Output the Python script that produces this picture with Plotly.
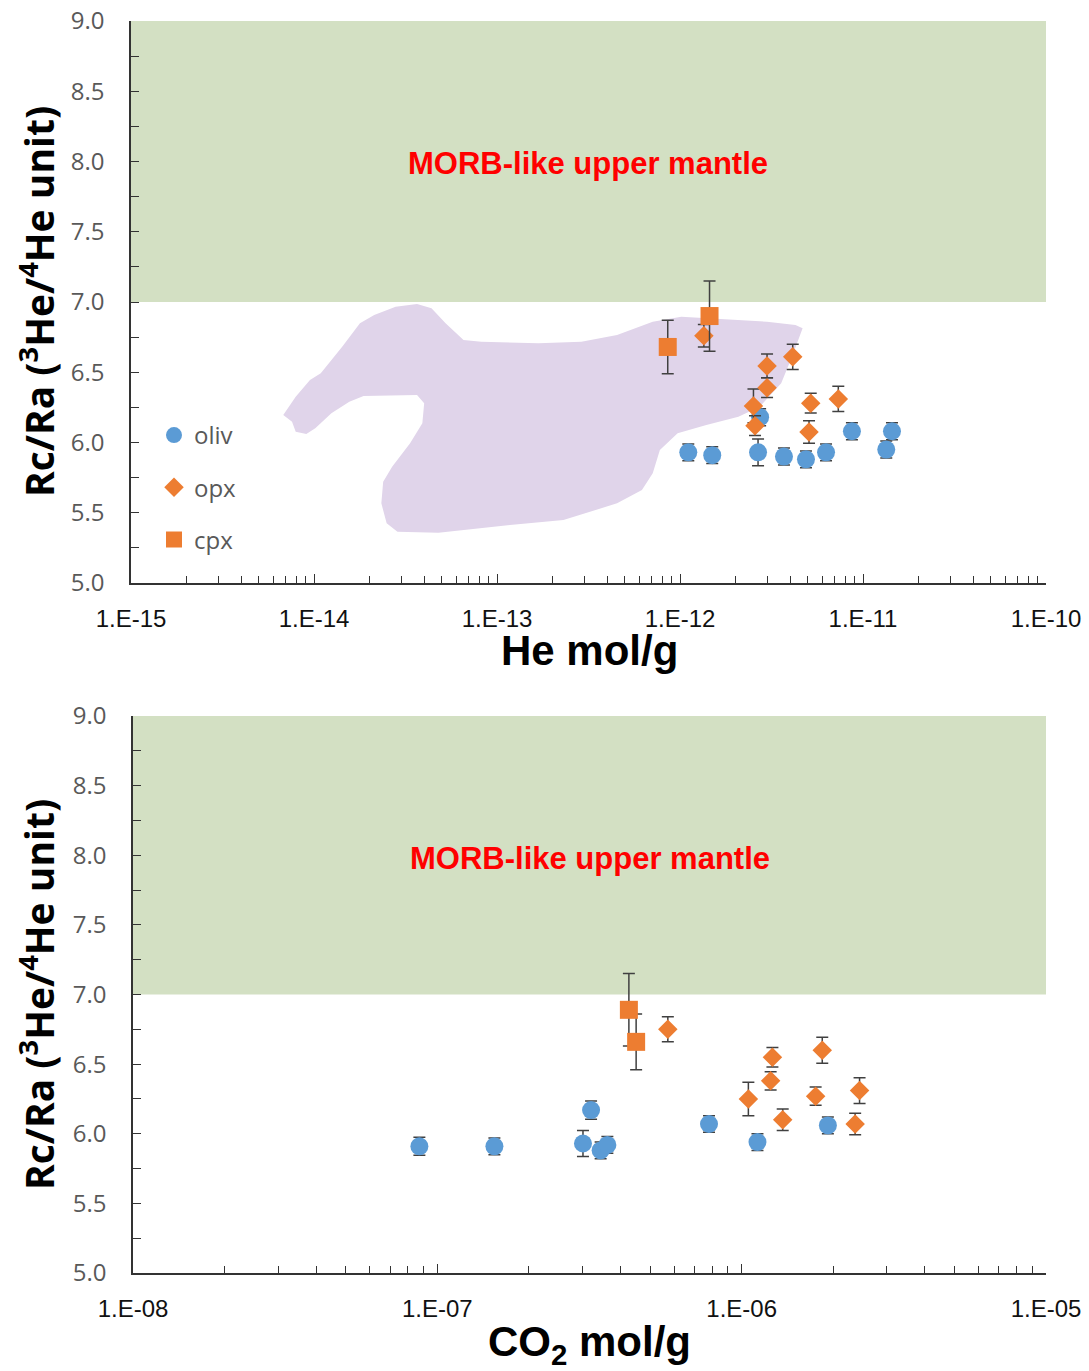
import numpy as np
import plotly.graph_objects as go

# ---------------- data ----------------
# Top panel: He mol/g vs Rc/Ra
oliv_he = [1.11e-12, 1.50e-12, 2.67e-12, 2.74e-12, 3.70e-12, 4.88e-12, 6.28e-12, 8.7e-12, 1.34e-11, 1.44e-11]
oliv_r_he = [5.93, 5.91, 5.93, 6.18, 5.90, 5.88, 5.93, 6.08, 5.95, 6.08]
oliv_err_he = [0.06, 0.06, 0.095, 0.06, 0.06, 0.06, 0.06, 0.06, 0.06, 0.06]

opx_he = [1.35e-12, 2.99e-12, 4.13e-12, 2.99e-12, 2.52e-12, 2.57e-12, 5.18e-12, 7.33e-12, 5.07e-12]
opx_r_he = [6.76, 6.545, 6.61, 6.39, 6.26, 6.12, 6.28, 6.31, 6.075]
opx_err_he = [0.08, 0.085, 0.09, 0.07, 0.12, 0.07, 0.07, 0.09, 0.08]

cpx_he = [8.57e-13, 1.45e-12]
cpx_r_he = [6.68, 6.90]
cpx_err_he = [0.19, 0.25]

# Bottom panel: CO2 mol/g vs Rc/Ra
oliv_co2 = [8.73e-8, 1.54e-7, 3.20e-7, 3.01e-7, 3.44e-7, 3.62e-7, 7.81e-7, 1.127e-6, 1.92e-6]
oliv_r_co2 = [5.91, 5.91, 6.17, 5.93, 5.88, 5.92, 6.07, 5.94, 6.06]
oliv_err_co2 = [0.065, 0.06, 0.065, 0.093, 0.06, 0.06, 0.06, 0.06, 0.06]

opx_co2 = [5.72e-7, 1.262e-6, 1.245e-6, 1.052e-6, 1.364e-6, 1.84e-6, 1.75e-6, 2.44e-6, 2.36e-6]
opx_r_co2 = [6.75, 6.55, 6.38, 6.25, 6.10, 6.60, 6.27, 6.31, 6.07]
opx_err_co2 = [0.09, 0.07, 0.065, 0.12, 0.077, 0.093, 0.066, 0.092, 0.078]

cpx_co2 = [4.26e-7, 4.50e-7]
cpx_r_co2 = [6.89, 6.66]
cpx_err_co2 = [0.26, 0.20]

# Purple field outline (log10 He, Rc/Ra)
field_log_he = [-14.168, -14.120, -14.100, -14.042, -13.993, -13.905, -13.807, -13.729, -13.437, -13.398,
                -13.408, -13.475, -13.573, -13.622, -13.632, -13.603, -13.544, -13.320, -12.929, -12.637,
                -12.344, -12.208, -12.149, -12.110, -12.013, -11.856, -11.681, -11.564, -11.447, -11.388,
                -11.330, -11.369, -11.525, -11.856, -11.993, -12.149, -12.344, -12.539, -12.773, -13.086,
                -13.183, -13.281, -13.358, -13.437, -13.554, -13.671, -13.749, -13.846, -13.963, -14.022,
                -14.100]
field_r = [6.196, 6.148, 6.077, 6.060, 6.101, 6.208, 6.290, 6.331, 6.338, 6.279,
           6.137, 5.994, 5.828, 5.721, 5.567, 5.425, 5.365, 5.358, 5.413, 5.448,
           5.567, 5.662, 5.781, 5.947, 6.065, 6.125, 6.184, 6.255, 6.421, 6.611,
           6.813, 6.836, 6.860, 6.884, 6.895, 6.860, 6.765, 6.717, 6.706, 6.717,
           6.730, 6.848, 6.955, 6.986, 6.967, 6.907, 6.848, 6.682, 6.493, 6.445,
           6.326]

he_decades = [-15, -14, -13, -12, -11, -10]
co2_decades = [-8, -7, -6, -5]
y_ticks = [5.0, 5.5, 6.0, 6.5, 7.0, 7.5, 8.0, 8.5, 9.0]
morb_low, morb_high = 7.0, 9.0

# ---------------- styling ----------------
BLUE = "#5b9bd5"
ORANGE = "#ed7d31"
GREEN = "#d3e0c3"
PURPLE = "#e0d4ea"
ERR = "#404040"
AX = "#333333"
TICKFONT_X = dict(family="Liberation Sans Narrow, Liberation Sans, Arial", size=24, color="#111111")
TICKFONT_Y = dict(family="Open Sans, Liberation Sans", size=24, color="#595959")

# body margin is removed in the page, so the figure fills the window
W, H = 1089, 1371

def px(p):
    return p / W

def py(p):
    return 1 - p / H

fig = go.Figure()

def err(vals):
    return dict(type="data", array=vals, visible=True, color=ERR, thickness=1.5, width=6)

# field polygon (top)
fig.add_trace(go.Scatter(x=10 ** np.array(field_log_he), y=field_r, mode="lines", fill="toself",
                         fillcolor=PURPLE, line=dict(width=0, color=PURPLE), showlegend=False,
                         hoverinfo="skip", xaxis="x", yaxis="y"))

# top panel traces
fig.add_trace(go.Scatter(x=oliv_he, y=oliv_r_he, mode="markers", name="oliv", legendgroup="a",
                         marker=dict(symbol="circle", size=18, color=BLUE), error_y=err(oliv_err_he),
                         xaxis="x", yaxis="y"))
fig.add_trace(go.Scatter(x=opx_he, y=opx_r_he, mode="markers", name="opx", legendgroup="b",
                         marker=dict(symbol="diamond", size=15, color=ORANGE), error_y=err(opx_err_he),
                         xaxis="x", yaxis="y"))
fig.add_trace(go.Scatter(x=cpx_he, y=cpx_r_he, mode="markers", name="cpx", legendgroup="c",
                         marker=dict(symbol="square", size=18, color=ORANGE), error_y=err(cpx_err_he),
                         xaxis="x", yaxis="y"))

# bottom panel traces
fig.add_trace(go.Scatter(x=oliv_co2, y=oliv_r_co2, mode="markers", showlegend=False,
                         marker=dict(symbol="circle", size=18, color=BLUE), error_y=err(oliv_err_co2),
                         xaxis="x2", yaxis="y2"))
fig.add_trace(go.Scatter(x=opx_co2, y=opx_r_co2, mode="markers", showlegend=False,
                         marker=dict(symbol="diamond", size=15, color=ORANGE), error_y=err(opx_err_co2),
                         xaxis="x2", yaxis="y2"))
fig.add_trace(go.Scatter(x=cpx_co2, y=cpx_r_co2, mode="markers", showlegend=False,
                         marker=dict(symbol="square", size=18, color=ORANGE), error_y=err(cpx_err_co2),
                         xaxis="x2", yaxis="y2"))

# MORB bands
for xr, yr in (("x domain", "y"), ("x2 domain", "y2")):
    fig.add_shape(type="rect", xref=xr, yref=yr, x0=0, x1=1, y0=morb_low, y1=morb_high,
                  fillcolor=GREEN, line=dict(width=0), layer="below")

def minor_vals(decs):
    out = []
    for d in decs[:-1]:
        for m in range(2, 10):
            out.append(m * 10.0 ** d)
    return out

def xaxis_cfg(decs, x0, ticktext, anchor):
    return dict(type="log", range=[decs[0], decs[-1]], domain=[px(x0), px(1046)], anchor=anchor,
                automargin=False, ticklabeloverflow="allow",
                showgrid=False, zeroline=False, showline=True, linecolor=AX, linewidth=1.5,
                ticks="inside", ticklen=9, tickcolor=AX, tickwidth=1.2,
                tickvals=[10.0 ** d for d in decs], ticktext=ticktext,
                tickfont=TICKFONT_X, ticklabelstandoff=13,
                minor=dict(tickvals=minor_vals(decs), ticks="inside", ticklen=7, tickcolor=AX, tickwidth=1.2))

def yaxis_cfg(top, bottom, anchor):
    return dict(range=[5, 9], domain=[py(bottom), py(top)], anchor=anchor, showgrid=False,
                zeroline=False, automargin=False, ticklabeloverflow="allow",
                showline=True, linecolor=AX, linewidth=1.5, ticks="inside", ticklen=8, tickcolor=AX,
                tickwidth=1.2, tickvals=y_ticks, ticktext=["%.1f" % v for v in y_ticks],
                tickfont=TICKFONT_Y, ticklabelstandoff=20,
                minor=dict(dtick=0.25, ticks="inside", ticklen=8, tickcolor=AX, tickwidth=1.2))

fig.update_layout(
    width=W, height=H, margin=dict(l=0, r=0, t=0, b=0, autoexpand=False),
    plot_bgcolor="white", paper_bgcolor="white",
    xaxis=xaxis_cfg(he_decades, 131, ["1.E%d" % d for d in he_decades], "y"),
    yaxis=yaxis_cfg(21, 583, "x"),
    xaxis2=xaxis_cfg(co2_decades, 133, ["1.E-%02d" % (-d) for d in co2_decades], "y2"),
    yaxis2=yaxis_cfg(716, 1273, "x2"),
    legend=dict(x=px(154), y=py(413), xanchor="left", yanchor="top",
                font=dict(family="Open Sans, Liberation Sans", size=24, color="#595959"),
                bgcolor="rgba(0,0,0,0)", tracegroupgap=18, traceorder="grouped",
                itemwidth=30),
    showlegend=True,
)

TITLE_FONT = dict(family="Open Sans, Liberation Sans", size=39, color="black")
XTITLE_FONT = dict(family="Liberation Sans, Arial", size=42, color="black")
MORB_FONT = dict(family="Liberation Sans, Arial", size=31, color="#ff0000")

ann = [
    dict(text="<b>Rc/Ra (<sup>3</sup>He/<sup>4</sup>He unit)</b>", x=px(37), y=py(302),
         textangle=-90, font=TITLE_FONT),
    dict(text="<b>Rc/Ra (<sup>3</sup>He/<sup>4</sup>He unit)</b>", x=px(37), y=py(995),
         textangle=-90, font=TITLE_FONT),
    dict(text="<b>He mol/g</b>", x=px(589), y=py(651), font=XTITLE_FONT),
    dict(text="<b>CO<sub>2</sub> mol/g</b>", x=px(589), y=py(1344), font=XTITLE_FONT),
    dict(text="<b>MORB-like upper mantle</b>", x=px(588), y=py(163), font=MORB_FONT),
    dict(text="<b>MORB-like upper mantle</b>", x=px(590), y=py(858), font=MORB_FONT),
]
for a in ann:
    a.update(xref="paper", yref="paper", showarrow=False, xanchor="center", yanchor="middle")
    fig.add_annotation(**a)

fig.write_html("out.html", config={"displayModeBar": False},
               post_script="document.body.style.margin='0px';document.body.style.overflow='hidden';")
